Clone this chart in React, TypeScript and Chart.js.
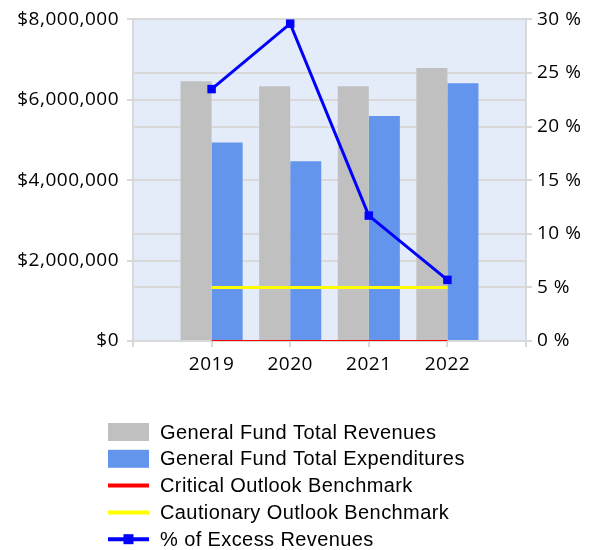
import React, { useEffect, useRef } from "react";
import { Chart, registerables } from "chart.js";

Chart.register(...registerables);

const years = ["2019", "2020", "2021", "2022"];
const revenues = [6460000, 6340000, 6340000, 6790000];
const expenditures = [4940000, 4470000, 5600000, 6410000];
const excessPct = [23.5, 29.6, 11.7, 5.7];
const criticalPct = [0, 0, 0, 0];
const cautionaryPct = [5, 5, 5, 5];

const leftTicks = { min: 0, max: 8000000, step: 2000000 };
const rightTicks = { min: 0, max: 30, step: 5 };

const legendItems = [
  { label: "General Fund Total Revenues", kind: "box", color: "#C0C0C0" },
  { label: "General Fund Total Expenditures", kind: "box", color: "#6495ED" },
  { label: "Critical Outlook Benchmark", kind: "line", color: "#FF0000" },
  { label: "Cautionary Outlook Benchmark", kind: "line", color: "#FFFF00" },
  { label: "% of Excess Revenues", kind: "marker", color: "#0000FF" },
];

const pad = (arr: any[]) => [null, ...arr, null];

const AXIS_FONT = "'Open Sans', 'Liberation Sans', sans-serif";
const LEGEND_FONT = "'Liberation Sans', Arial, sans-serif";

export default function App() {
  const ref = useRef<HTMLCanvasElement>(null);
  useEffect(() => {
    if (!ref.current) return;
    const bgPlugin = {
      id: "bg",
      beforeDraw(chart: any) {
        const { ctx, chartArea } = chart;
        ctx.save();
        ctx.fillStyle = "#E4ECFA";
        ctx.fillRect(chartArea.left, chartArea.top, chartArea.right - chartArea.left, chartArea.bottom - chartArea.top);
        ctx.restore();
        try { ctx.letterSpacing = "0.5px"; } catch (e) {}
      },
      beforeDatasetsDraw(chart: any) {
        try { chart.ctx.letterSpacing = "0px"; } catch (e) {}
      },
    };
    const legendPlugin = {
      id: "customLegend",
      afterDraw(chart: any) {
        const ctx = chart.ctx;
        ctx.save();
        const x0 = 108;
        const y0 = 432;
        const dy = 26.8;
        ctx.font = `20px ${LEGEND_FONT}`;
        try { (ctx as any).letterSpacing = "0.4px"; } catch (e) {}
        ctx.textBaseline = "middle";
        legendItems.forEach((it, i) => {
          const y = y0 + i * dy;
          if (it.kind === "box") {
            ctx.fillStyle = it.color;
            ctx.fillRect(x0, y - 9, 41, 18);
          } else {
            ctx.strokeStyle = it.color;
            ctx.lineWidth = 4;
            ctx.beginPath();
            ctx.moveTo(x0, y);
            ctx.lineTo(x0 + 41, y);
            ctx.stroke();
            if (it.kind === "marker") {
              ctx.fillStyle = it.color;
              ctx.fillRect(x0 + 20.5 - 5, y - 5, 10, 10);
            }
          }
          ctx.fillStyle = "#000";
          ctx.fillText(it.label, 160, y + 1);
        });
        try { (ctx as any).letterSpacing = "0px"; } catch (e) {}
        ctx.restore();
      },
    };
    const gridColor = "#D9D9D9";
    const chart = new Chart(ref.current, {
      type: "bar",
      data: {
        labels: ["", ...years, ""],
        datasets: [
          {
            type: "bar",
            label: "General Fund Total Revenues",
            data: pad(revenues),
            backgroundColor: "#C0C0C0",
            yAxisID: "y",
            order: 2,
            categoryPercentage: 0.79,
            barPercentage: 1,
          },
          {
            type: "bar",
            label: "General Fund Total Expenditures",
            data: pad(expenditures),
            backgroundColor: "#6495ED",
            yAxisID: "y",
            order: 2,
            categoryPercentage: 0.79,
            barPercentage: 1,
          },
          {
            type: "line",
            label: "Critical Outlook Benchmark",
            data: pad(criticalPct),
            borderColor: "#FF0000",
            borderWidth: 2,
            pointRadius: 0,
            yAxisID: "y1",
            order: 1,
          },
          {
            type: "line",
            label: "Cautionary Outlook Benchmark",
            data: pad(cautionaryPct),
            borderColor: "#FFFF00",
            borderWidth: 3,
            pointRadius: 0,
            yAxisID: "y1",
            order: 1,
          },
          {
            type: "line",
            label: "% of Excess Revenues",
            data: pad(excessPct),
            borderColor: "#0000FF",
            backgroundColor: "#0000FF",
            borderWidth: 3,
            pointStyle: "rect",
            pointRadius: 6,
            pointBorderWidth: 0,
            yAxisID: "y1",
            order: 0,
            clip: false,
          } as any,
        ],
      },
      options: {
        animation: false,
        responsive: true,
        maintainAspectRatio: false,
        layout: { padding: { top: 18, bottom: 169, left: 0, right: 0 } },
        plugins: { legend: { display: false }, tooltip: { enabled: false } },
        scales: {
          x: {
            type: "category",
            offset: false,
            grid: { offset: false, drawOnChartArea: false, drawTicks: true, tickLength: 6, color: gridColor, lineWidth: 2 },
            border: { display: true, color: gridColor, width: 2 },
            ticks: { color: "#000", font: { family: AXIS_FONT, size: 19 }, padding: 6, maxRotation: 0, autoSkip: false },
            afterFit: (s: any) => { s.height = 40; },
          },
          y: {
            position: "left",
            min: leftTicks.min,
            max: leftTicks.max,
            grid: { color: gridColor, lineWidth: 2, tickLength: 6 },
            border: { display: true, color: gridColor, width: 2 },
            ticks: {
              stepSize: leftTicks.step,
              color: "#000",
              font: { family: AXIS_FONT, size: 19 },
              padding: 8,
              callback: (v: any) => "$" + Number(v).toLocaleString("en-US"),
            },
            afterFit: (s: any) => { s.width = 133; },
          },
          y1: {
            position: "right",
            min: rightTicks.min,
            max: rightTicks.max,
            grid: { color: gridColor, lineWidth: 2, tickLength: 6, drawOnChartArea: true },
            border: { display: true, color: gridColor, width: 2 },
            ticks: {
              stepSize: rightTicks.step,
              color: "#000",
              font: { family: AXIS_FONT, size: 19 },
              padding: 5,
              callback: (v: any) => v + " %",
            },
            afterFit: (s: any) => { s.width = 72; },
          },
        },
      },
      plugins: [bgPlugin, legendPlugin],
    } as any);
    return () => chart.destroy();
  }, []);
  return (
    <div style={{ position: "fixed", left: 0, top: 0, width: 598, height: 550, background: "#fff" }}>
      <canvas ref={ref} />
    </div>
  );
}
